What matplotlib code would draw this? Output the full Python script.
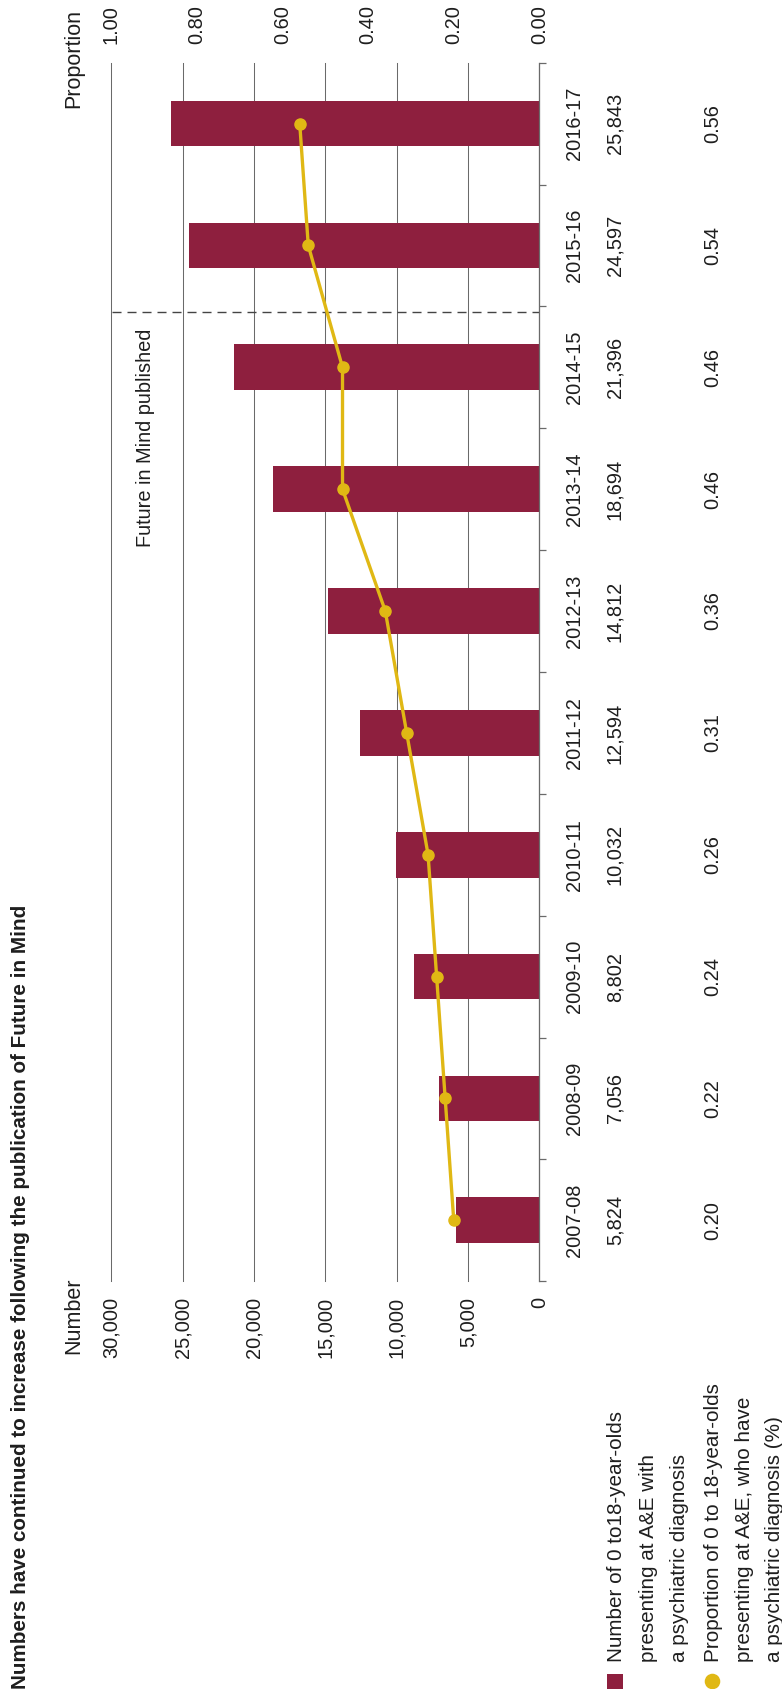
import matplotlib
matplotlib.use("Agg")
import matplotlib.pyplot as plt
import matplotlib.transforms as mtransforms
from matplotlib.lines import Line2D

# data
years = ["2007-08", "2008-09", "2009-10", "2010-11", "2011-12",
         "2012-13", "2013-14", "2014-15", "2015-16", "2016-17"]
numbers = [5824, 7056, 8802, 10032, 12594, 14812, 18694, 21396, 24597, 25843]
proportions = [0.20, 0.22, 0.24, 0.26, 0.31, 0.36, 0.46, 0.46, 0.54, 0.56]
number_ticks = [0, 5000, 10000, 15000, 20000, 25000, 30000]
prop_ticks = [0.0, 0.2, 0.4, 0.6, 0.8, 1.0]

title = "Numbers have continued to increase following the publication of Future in Mind"
legend_number = ["Number of 0 to18-year-olds", "presenting at A&E with",
                 "a psychiatric diagnosis"]
legend_prop = ["Proportion of 0 to 18-year-olds", "presenting at A&E, who have",
               "a psychiatric diagnosis (%)"]

MAROON = "#8E1F3E"
GOLD = "#E0B814"
GRID = "#6a6a6a"
TEXT = "#1e1e1e"

plt.rcParams["font.family"] = ["Liberation Sans", "DejaVu Sans"]
plt.rcParams["text.color"] = TEXT

W, H = 782, 1689
fig = plt.figure(figsize=(W / 100, H / 100), dpi=100)


def fx(px):
    return px / W


def fy(py):
    return 1 - py / H


ax = fig.add_axes([fx(111.5), fy(1281.2), 427.8 / W, (1281.2 - 62.7) / H])

ypos = list(range(len(years)))
ax.barh(ypos, numbers, height=0.375, color=MAROON, zorder=2)
ax.set_xlim(30000, 0)
ax.set_ylim(-0.5, len(years) - 0.5)

ax.set_xticks(number_ticks)
ax.set_xticklabels([f"{v:,}" for v in number_ticks], rotation=90)
ax.tick_params(axis="x", length=0, pad=11.5, labelsize=14.4, labelcolor=TEXT)
ax.grid(axis="x", color=GRID, lw=0.75)
ax.set_axisbelow(True)
for gl in ax.get_xgridlines():
    gl.set_clip_on(False)

ax.yaxis.tick_right()
ax.set_yticks([i - 0.5 for i in range(len(years) + 1)])
ax.set_yticklabels([])
ax.tick_params(axis="y", direction="out", length=5.2, width=0.9, color=GRID)
for side in ["left", "top", "bottom"]:
    ax.spines[side].set_visible(False)
ax.spines["right"].set_color(GRID)
ax.spines["right"].set_linewidth(0.9)

# Future in Mind marker line
ax.axhline(7.45, color="#444444", lw=1.0, ls=(0, (6.5, 4.3)), zorder=2.5)
ax.text(27200, 7.32, "Future in Mind published", rotation=90, rotation_mode="anchor",
        ha="right", va="baseline", fontsize=14.4)

# proportion on second axis
ax2 = ax.twiny()
ax2.set_xlim(1, 0)
ax2.plot(proportions, ypos, color=GOLD, lw=2.4, marker="o", ms=8, zorder=3)
ax2.set_xticks(prop_ticks)
ax2.set_xticklabels([f"{p:.2f}" for p in prop_ticks], rotation=90)
ax2.tick_params(axis="x", length=0, pad=13.5, labelsize=14.4, labelcolor=TEXT)
for s in ax2.spines.values():
    s.set_visible(False)

# table of values beside the axis
trans = mtransforms.blended_transform_factory(fig.transFigure, ax.transData)
for i in ypos:
    for xb, s in [(580, years[i]), (620.5, f"{numbers[i]:,}"), (718, f"{proportions[i]:.2f}")]:
        ax.text(fx(xb), i, s, transform=trans, rotation=90, rotation_mode="anchor",
                ha="center", va="baseline", fontsize=14.4)

# axis titles and title
fig.text(fx(79.5), fy(1354), "Number", rotation=90, rotation_mode="anchor",
         ha="left", va="baseline", fontsize=15.5)
fig.text(fx(79.5), fy(108), "Proportion", rotation=90, rotation_mode="anchor",
         ha="left", va="baseline", fontsize=15.5)
fig.text(fx(26.5), fy(1689), title, rotation=90, rotation_mode="anchor",
         ha="left", va="baseline", fontsize=14.85, fontweight="bold")

# legend
fig.add_artist(Line2D([fx(614.7)], [fy(1681.5)], marker="s", ms=11.2, mew=0,
                      color=MAROON, ls="none", transform=fig.transFigure))
fig.add_artist(Line2D([fx(711.5)], [fy(1681)], marker="o", ms=11.2, mew=0,
                      color=GOLD, ls="none", transform=fig.transFigure))
for xb, s in zip([622, 654, 685], legend_number):
    fig.text(fx(xb), fy(1662.5), s, rotation=90, rotation_mode="anchor",
             ha="left", va="baseline", fontsize=14.9)
for xb, s in zip([719, 750.5, 780], legend_prop):
    fig.text(fx(xb), fy(1662.5), s, rotation=90, rotation_mode="anchor",
             ha="left", va="baseline", fontsize=14.9)

fig.savefig("out.png", dpi=100)
